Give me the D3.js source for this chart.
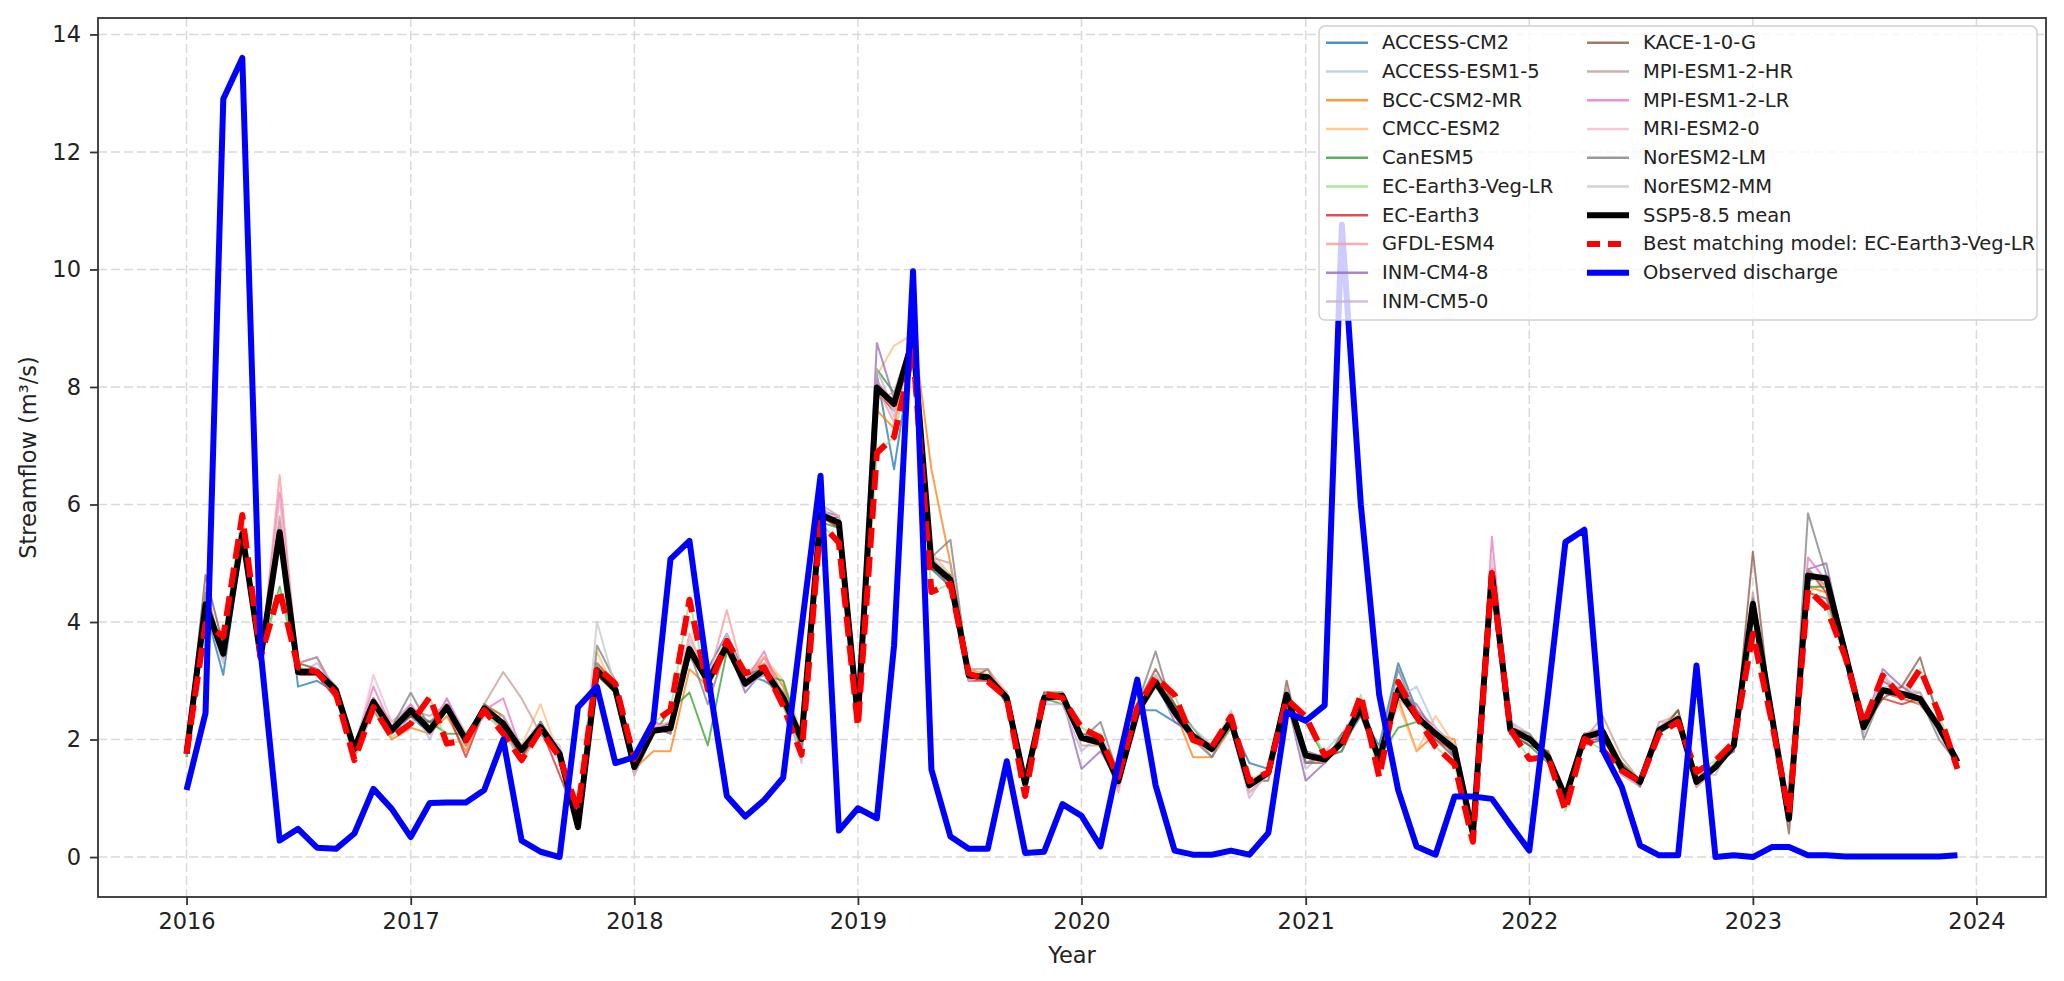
<!DOCTYPE html>
<html>
<head>
<meta charset="utf-8">
<script src="https://cdn.jsdelivr.net/npm/d3@7"></script>
<style>
  body { margin: 0; background: #fff; }
  svg { display: block; font-family: "DejaVu Sans", sans-serif; }
</style>
</head>
<body>
<div id="chart"></div>
<script>
// monthly series, Jan 2016 .. Dec 2023
const yearTicks = [2016, 2017, 2018, 2019, 2020, 2021, 2022, 2023, 2024];
const yTicks = [0, 2, 4, 6, 8, 10, 12, 14];

const observed = [
  1.14, 2.45, 12.9, 13.6, 3.5, 0.28, 0.48, 0.16, 0.14, 0.40, 1.16, 0.82,
  0.34, 0.92, 0.93, 0.93, 1.14, 2.0, 0.28, 0.09, 0.0, 2.55, 2.9, 1.6,
  1.7, 2.3, 5.07, 5.38, 3.1, 1.04, 0.69, 0.97, 1.35, 3.9, 6.49, 0.45,
  0.83, 0.66, 3.6, 9.97, 1.49, 0.35, 0.14, 0.14, 1.63, 0.07, 0.09, 0.9,
  0.70, 0.18, 1.6, 3.02, 1.22, 0.11, 0.04, 0.04, 0.11, 0.04, 0.41, 2.47,
  2.32, 2.58, 10.76, 6.0, 2.76, 1.14, 0.18, 0.04, 1.03, 1.03, 0.99, 0.55,
  0.11, 2.8, 5.36, 5.57, 1.82, 1.19, 0.2, 0.03, 0.03, 3.26, 0.0, 0.03,
  0.0, 0.17, 0.17, 0.03, 0.03, 0.01, 0.01, 0.01, 0.01, 0.01, 0.01, 0.03
];

const ensembleMean = [
  1.76, 4.3, 3.46, 5.5, 3.4, 5.53, 3.15, 3.15, 2.84, 1.84, 2.64, 2.16,
  2.5, 2.16, 2.55, 1.99, 2.53, 2.27, 1.82, 2.21, 1.76, 0.51, 3.18, 2.85,
  1.53, 2.15, 2.19, 3.54, 2.99, 3.6, 2.95, 3.19, 2.71, 2.01, 5.83, 5.69,
  2.36, 7.99, 7.71, 8.82, 5.0, 4.72, 3.09, 3.06, 2.71, 1.25, 2.71, 2.74,
  2.03, 1.95, 1.29, 2.47, 2.98, 2.47, 2.06, 1.84, 2.32, 1.22, 1.44, 2.76,
  1.73, 1.66, 1.95, 2.54, 1.66, 2.84, 2.39, 2.1, 1.84, 0.4, 4.83, 2.17,
  2.01, 1.7, 1.02, 2.04, 2.13, 1.5, 1.28, 2.16, 2.35, 1.28, 1.53, 1.9,
  4.31, 2.4, 0.65, 4.79, 4.74, 3.46, 2.21, 2.84, 2.78, 2.69, 2.21, 1.62
];

// EC-Earth3-Veg-LR (also the best matching model)
const ecEarth3VegLR = [
  1.76, 3.97, 3.75, 5.82, 3.4, 4.54, 3.23, 3.15, 2.78, 1.65, 2.55, 2.04,
  2.27, 2.72, 1.93, 1.99, 2.5, 2.1, 1.65, 2.16, 1.7, 0.8, 3.23, 2.95,
  1.67, 2.29, 2.5, 4.38, 2.85, 3.68, 3.13, 3.23, 2.57, 1.74, 5.69, 5.35,
  2.22, 6.88, 7.15, 8.61, 4.51, 4.65, 3.13, 2.99, 2.71, 1.04, 2.78, 2.71,
  2.2, 2.03, 1.36, 2.54, 3.06, 2.76, 1.99, 1.88, 2.39, 1.29, 1.44, 2.69,
  2.39, 1.73, 1.88, 2.76, 1.36, 2.98, 2.39, 1.88, 1.58, 0.26, 4.83, 2.17,
  1.67, 1.7, 0.79, 2.01, 1.82, 1.47, 1.28, 2.1, 2.3, 1.45, 1.64, 1.96,
  3.8, 2.3, 0.74, 4.55, 4.25, 3.4, 2.27, 3.09, 2.72, 3.2, 2.44, 1.5
];

const accessCM2 = [
  1.7, 4.2, 3.1, 5.4, 3.3, 5.6, 2.9, 3.0, 2.8, 1.9, 2.5, 2.1,
  2.4, 2.1, 2.5, 1.9, 2.6, 2.4, 1.7, 2.1, 1.7, 0.6, 3.1, 2.8,
  1.4, 2.1, 2.3, 3.4, 3.2, 3.8, 3.1, 3.0, 2.8, 2.1, 5.9, 5.6,
  2.3, 8.2, 6.6, 8.7, 4.9, 4.6, 3.0, 3.1, 2.6, 1.3, 2.8, 2.7,
  2.0, 1.9, 1.3, 2.5, 2.5, 2.3, 2.1, 1.9, 2.3, 1.6, 1.5, 2.7,
  1.8, 1.7, 1.9, 2.4, 1.9, 3.3, 2.5, 2.2, 1.7, 0.4, 4.7, 2.1,
  2.0, 1.6, 1.1, 1.9, 2.0, 1.6, 1.3, 2.2, 2.3, 1.2, 1.5, 1.9,
  4.2, 2.5, 0.8, 4.7, 4.8, 3.4, 2.3, 2.8, 2.7, 2.6, 2.2, 1.6
];
const accessESM15 = [
  1.8, 4.4, 3.4, 5.6, 3.5, 5.4, 3.1, 3.1, 2.7, 1.8, 2.7, 2.2,
  2.3, 2.3, 2.6, 1.9, 2.4, 2.2, 1.9, 2.3, 1.6, 0.5, 3.3, 2.9,
  1.5, 2.3, 2.2, 3.7, 3.1, 3.5, 3.0, 3.3, 2.8, 1.9, 5.7, 5.8,
  2.4, 8.1, 7.5, 8.9, 5.1, 4.8, 3.2, 3.0, 2.8, 1.2, 2.6, 2.8,
  2.1, 2.0, 1.4, 2.6, 2.9, 2.4, 2.0, 1.8, 2.4, 1.3, 1.4, 2.6,
  1.6, 1.8, 2.1, 2.6, 1.7, 2.7, 2.9, 2.2, 1.9, 0.5, 4.9, 2.3,
  1.9, 1.8, 1.0, 2.1, 2.2, 1.4, 1.2, 2.1, 2.4, 1.3, 1.6, 1.8,
  4.4, 2.3, 0.7, 4.9, 4.6, 3.6, 2.2, 2.9, 2.9, 2.8, 2.1, 1.5
];
const bccCSM2MR = [
  1.8, 4.2, 3.5, 5.4, 3.4, 5.5, 3.2, 3.2, 2.9, 1.7, 2.5, 2.0,
  2.2, 2.1, 2.4, 1.8, 2.6, 2.4, 1.8, 2.2, 1.8, 0.6, 3.3, 3.0,
  1.5, 1.8, 1.8, 3.2, 2.9, 3.5, 2.9, 3.4, 2.9, 2.0, 5.8, 5.6,
  2.3, 7.6, 7.3, 9.0, 6.6, 5.0, 3.2, 3.1, 2.7, 1.2, 2.7, 2.7,
  2.0, 1.9, 1.2, 2.6, 2.9, 2.5, 1.7, 1.7, 2.2, 1.1, 1.4, 2.8,
  1.8, 1.6, 1.9, 2.5, 1.7, 2.7, 1.8, 2.1, 2.0, 0.5, 4.7, 2.2,
  2.1, 1.6, 1.0, 2.1, 2.1, 1.6, 1.3, 2.2, 2.4, 1.4, 1.5, 2.0,
  4.2, 2.5, 0.8, 4.6, 4.5, 3.5, 2.3, 2.8, 2.7, 2.6, 2.2, 1.6
];
const cmccESM2 = [
  1.8, 4.3, 3.6, 5.6, 3.5, 5.7, 3.3, 3.2, 2.8, 1.9, 2.7, 2.3,
  2.5, 2.2, 2.6, 2.1, 2.4, 2.3, 1.9, 2.6, 1.7, 0.5, 3.5, 2.8,
  1.6, 2.2, 2.3, 3.6, 3.0, 3.7, 3.1, 3.4, 3.0, 2.1, 5.9, 5.7,
  2.4, 8.2, 8.7, 8.9, 5.2, 4.8, 3.1, 3.2, 2.8, 1.3, 2.8, 2.8,
  2.1, 2.1, 1.3, 2.6, 3.1, 2.6, 2.1, 1.8, 2.3, 1.3, 1.5, 2.8,
  1.7, 1.7, 2.0, 2.6, 1.6, 2.6, 1.8, 2.4, 1.9, 0.4, 4.9, 2.3,
  2.0, 1.8, 1.0, 2.0, 2.2, 1.6, 1.3, 2.2, 2.5, 1.3, 1.6, 2.0,
  4.4, 2.4, 0.7, 4.5, 4.7, 3.5, 2.3, 2.8, 2.9, 2.7, 2.3, 1.6
];
const canESM5 = [
  1.7, 4.3, 3.5, 5.5, 3.4, 4.6, 3.2, 3.1, 2.8, 1.8, 2.6, 2.2,
  2.5, 2.3, 2.1, 2.1, 2.5, 2.2, 1.8, 2.1, 1.8, 0.6, 3.1, 2.8,
  1.5, 2.1, 2.5, 2.8, 1.9, 3.5, 3.0, 3.1, 3.0, 2.0, 5.7, 5.6,
  2.4, 8.3, 7.9, 8.6, 4.9, 4.7, 3.1, 3.0, 2.7, 1.3, 2.7, 2.6,
  2.0, 2.0, 1.3, 2.4, 2.9, 2.6, 2.2, 1.8, 2.2, 1.3, 1.4, 2.7,
  2.3, 1.7, 1.8, 2.5, 1.7, 2.2, 2.3, 2.1, 1.8, 0.4, 4.8, 2.1,
  1.9, 1.6, 1.0, 2.1, 2.1, 1.6, 1.3, 2.1, 2.5, 1.3, 1.5, 1.9,
  4.2, 2.3, 0.7, 4.6, 4.6, 3.4, 2.3, 3.0, 2.8, 2.7, 2.2, 1.6
];
const ecEarth3 = [
  1.8, 4.2, 3.4, 5.6, 3.3, 5.4, 3.1, 3.1, 2.7, 1.8, 2.6, 2.2,
  2.4, 2.2, 2.5, 1.7, 2.5, 2.3, 1.7, 2.2, 1.4, 0.6, 3.1, 2.8,
  1.5, 2.2, 2.1, 3.5, 3.0, 3.6, 3.0, 3.1, 2.6, 2.0, 5.8, 5.6,
  2.3, 7.9, 7.6, 8.7, 5.0, 4.6, 3.0, 3.0, 2.7, 1.2, 2.7, 2.7,
  2.0, 1.9, 1.2, 2.5, 3.0, 2.4, 2.0, 1.9, 2.3, 1.2, 1.4, 2.8,
  1.7, 1.6, 2.0, 2.5, 1.7, 2.8, 2.4, 2.0, 1.8, 0.5, 4.8, 2.1,
  2.0, 1.7, 0.9, 2.0, 2.0, 1.5, 1.3, 2.2, 2.3, 1.2, 1.5, 1.9,
  4.4, 2.3, 0.6, 4.9, 4.5, 3.4, 2.2, 2.7, 2.6, 2.7, 2.2, 1.5
];
const gfdlESM4 = [
  1.8, 4.4, 3.4, 5.7, 3.3, 6.5, 3.2, 3.2, 2.8, 1.8, 2.7, 2.3,
  2.5, 2.2, 2.6, 2.0, 2.5, 2.2, 1.6, 2.2, 1.7, 0.6, 3.2, 2.9,
  1.5, 2.2, 2.3, 3.8, 3.0, 4.2, 3.0, 3.4, 2.7, 2.0, 5.8, 5.7,
  2.4, 8.0, 7.4, 8.8, 5.1, 4.7, 3.1, 3.1, 2.8, 1.3, 2.7, 2.7,
  2.0, 2.0, 1.1, 2.5, 3.0, 2.5, 2.1, 1.9, 2.4, 1.2, 1.4, 2.8,
  1.6, 1.7, 2.0, 2.5, 1.7, 2.8, 2.5, 2.2, 1.8, 0.4, 4.9, 2.2,
  2.0, 1.7, 1.0, 2.1, 2.2, 1.5, 1.3, 2.3, 2.4, 1.2, 1.5, 1.9,
  4.3, 2.4, 0.6, 4.8, 4.7, 3.5, 2.2, 2.8, 2.8, 2.6, 2.3, 1.6
];
const inmCM48 = [
  1.8, 4.3, 3.5, 5.5, 3.4, 5.6, 3.3, 3.4, 2.8, 1.8, 2.6, 2.2,
  2.5, 2.1, 2.6, 1.9, 2.5, 2.3, 1.8, 2.2, 1.8, 0.5, 3.2, 2.9,
  1.5, 2.2, 2.2, 3.5, 3.0, 3.6, 2.8, 3.2, 2.7, 2.1, 5.9, 5.8,
  2.4, 8.75, 7.8, 8.8, 5.0, 4.7, 3.1, 3.1, 2.7, 1.3, 2.7, 2.7,
  1.5, 1.8, 1.3, 2.5, 3.0, 2.3, 2.1, 1.8, 2.3, 1.2, 1.4, 2.7,
  1.3, 1.6, 2.0, 2.5, 1.7, 2.8, 2.6, 2.1, 1.8, 0.4, 4.8, 2.2,
  2.0, 1.7, 1.0, 2.0, 2.1, 1.5, 1.3, 2.2, 2.4, 1.3, 1.5, 1.9,
  4.3, 2.4, 0.7, 4.9, 5.0, 3.5, 2.2, 3.2, 2.9, 2.7, 2.2, 1.6
];
const inmCM50 = [
  1.9, 4.2, 3.3, 5.4, 3.5, 5.7, 3.1, 3.3, 2.9, 1.7, 2.5, 2.3,
  2.6, 2.0, 2.7, 2.1, 2.4, 2.4, 1.9, 2.1, 1.9, 0.6, 3.1, 3.0,
  1.6, 2.3, 2.1, 3.4, 3.1, 3.5, 2.9, 3.1, 2.8, 1.6, 6.0, 5.6,
  2.5, 8.3, 7.6, 8.7, 5.1, 4.6, 3.2, 3.0, 2.8, 1.4, 2.6, 2.6,
  1.8, 2.1, 1.4, 2.4, 3.1, 2.4, 2.2, 1.9, 2.2, 1.0, 1.5, 2.7,
  1.5, 1.8, 1.9, 2.6, 1.8, 2.9, 2.3, 2.2, 1.9, 0.5, 4.7, 2.3,
  2.1, 1.6, 1.1, 1.9, 2.2, 1.4, 1.2, 2.3, 2.3, 1.4, 1.4, 2.0,
  4.2, 2.5, 0.8, 4.7, 4.8, 3.6, 2.1, 3.1, 2.7, 2.8, 2.1, 1.7
];
const kace10G = [
  1.8, 4.8, 3.6, 5.3, 3.4, 5.4, 3.3, 3.2, 2.9, 1.9, 2.7, 2.2,
  2.4, 2.3, 2.5, 2.0, 2.6, 2.2, 1.7, 2.3, 1.7, 0.5, 3.3, 2.9,
  1.5, 2.1, 2.3, 3.6, 2.9, 3.7, 3.1, 3.2, 2.6, 1.9, 5.7, 5.8,
  2.3, 7.9, 7.8, 8.9, 4.9, 4.8, 3.0, 3.2, 2.6, 1.2, 2.8, 2.8,
  2.1, 2.0, 1.2, 2.6, 3.2, 2.6, 2.0, 1.8, 2.4, 1.3, 1.3, 3.0,
  1.6, 1.6, 2.1, 2.4, 1.6, 2.9, 2.5, 2.0, 1.7, 0.3, 4.9, 2.1,
  1.9, 1.8, 0.9, 2.1, 2.0, 1.6, 1.2, 2.1, 2.5, 1.2, 1.6, 1.8,
  5.2, 2.3, 0.4, 4.5, 4.4, 3.4, 2.3, 2.7, 2.9, 3.4, 2.3, 1.5
];
const mpiESM12HR = [
  1.7, 4.6, 3.4, 5.5, 3.3, 5.8, 3.3, 3.4, 2.7, 1.7, 2.6, 2.1,
  2.5, 2.4, 2.6, 1.9, 2.6, 3.15, 2.7, 2.1, 1.8, 0.6, 3.3, 2.8,
  1.4, 2.2, 2.2, 3.4, 3.0, 3.5, 3.0, 3.3, 2.7, 2.1, 6.0, 5.8,
  2.5, 7.8, 7.9, 8.9, 5.1, 5.0, 3.2, 3.2, 2.7, 1.3, 2.7, 2.8,
  1.9, 1.9, 1.3, 2.4, 2.9, 2.5, 2.1, 1.7, 2.3, 1.1, 1.4, 2.9,
  1.8, 1.7, 2.0, 2.5, 1.7, 2.7, 2.4, 2.1, 1.8, 0.4, 4.8, 2.2,
  2.0, 1.7, 1.0, 2.0, 2.4, 1.7, 1.3, 2.2, 2.4, 1.3, 1.5, 1.9,
  4.5, 2.4, 0.7, 4.9, 4.6, 3.5, 2.2, 2.8, 2.8, 2.8, 2.2, 1.6
];
const mpiESM12LR = [
  1.8, 4.3, 3.5, 5.6, 3.4, 6.2, 3.2, 3.2, 2.8, 1.9, 2.9, 2.2,
  2.6, 2.2, 2.7, 2.0, 2.5, 2.7, 1.8, 2.2, 1.8, 0.5, 3.2, 2.9,
  1.6, 2.3, 2.2, 3.5, 3.1, 3.6, 3.0, 3.5, 2.7, 1.9, 5.8, 5.7,
  2.4, 8.1, 7.7, 8.8, 5.0, 4.7, 3.1, 3.1, 2.7, 1.3, 2.7, 2.7,
  2.0, 2.0, 1.3, 2.5, 3.0, 2.5, 2.1, 1.8, 2.3, 1.2, 1.4, 2.8,
  1.7, 1.7, 2.0, 2.5, 1.7, 2.8, 2.4, 2.1, 1.8, 0.4, 5.45, 2.2,
  2.0, 1.7, 1.0, 2.0, 2.1, 1.5, 1.3, 2.2, 2.4, 1.3, 1.5, 1.9,
  4.3, 2.4, 0.7, 5.1, 4.7, 3.5, 2.2, 3.0, 2.8, 2.7, 2.2, 1.6
];
const mriESM20 = [
  1.8, 4.4, 3.5, 5.4, 3.3, 6.1, 3.2, 3.1, 2.8, 1.8, 3.1, 2.3,
  2.5, 2.2, 2.5, 2.0, 2.4, 2.3, 1.8, 2.2, 1.8, 0.5, 3.2, 2.9,
  1.4, 2.2, 2.3, 3.6, 3.0, 3.8, 3.0, 3.2, 2.8, 2.0, 5.8, 5.8,
  2.4, 8.0, 7.6, 8.8, 5.0, 4.7, 3.0, 3.1, 2.7, 1.3, 2.7, 2.7,
  2.0, 2.0, 1.2, 2.5, 3.0, 2.5, 2.1, 1.8, 2.5, 1.1, 1.4, 2.8,
  1.7, 1.6, 2.0, 2.5, 1.7, 2.8, 2.4, 2.2, 1.8, 0.4, 5.1, 2.2,
  2.0, 1.7, 1.0, 2.0, 2.1, 1.5, 1.3, 2.2, 2.4, 1.2, 1.5, 1.9,
  4.4, 2.4, 0.7, 4.8, 4.7, 3.5, 2.2, 3.1, 2.8, 2.7, 2.2, 1.6
];
const norESM2LM = [
  1.8, 4.5, 3.5, 5.6, 3.5, 5.6, 3.2, 3.2, 2.9, 1.8, 2.7, 2.2,
  2.8, 2.2, 2.6, 2.0, 2.6, 2.3, 1.8, 2.3, 1.8, 0.5, 3.6, 3.0,
  1.5, 2.2, 2.1, 3.5, 2.6, 3.6, 3.1, 3.2, 2.8, 1.8, 5.8, 5.7,
  2.4, 8.0, 7.7, 8.8, 5.1, 5.4, 3.1, 3.1, 2.7, 1.3, 2.7, 2.7,
  2.0, 2.3, 1.4, 2.6, 3.5, 2.4, 2.0, 1.7, 2.3, 1.2, 1.4, 2.7,
  1.6, 1.7, 1.8, 2.5, 1.7, 3.2, 2.4, 2.1, 1.8, 0.4, 4.8, 2.2,
  2.1, 1.7, 1.0, 2.0, 2.2, 1.5, 1.3, 2.2, 2.4, 1.3, 1.5, 1.9,
  4.4, 2.4, 0.7, 5.85, 4.8, 3.5, 2.0, 2.8, 2.8, 2.7, 2.0, 1.6
];
const norESM2MM = [
  1.8, 4.3, 3.6, 5.5, 3.4, 5.6, 3.1, 3.2, 2.8, 1.8, 2.6, 2.2,
  2.5, 2.2, 2.6, 2.0, 2.5, 2.3, 1.8, 2.2, 1.8, 0.6, 4.0, 2.9,
  1.5, 2.2, 2.2, 3.5, 3.0, 3.6, 3.0, 3.2, 2.7, 2.0, 5.8, 5.7,
  2.4, 8.0, 7.7, 8.8, 5.0, 4.7, 3.1, 3.1, 2.7, 1.3, 2.7, 2.7,
  2.0, 2.0, 1.3, 2.5, 3.0, 2.5, 2.1, 1.8, 2.3, 1.2, 1.4, 2.8,
  1.7, 1.7, 2.0, 2.5, 1.7, 2.8, 2.4, 2.1, 1.8, 0.4, 4.8, 2.2,
  2.0, 1.7, 1.0, 2.0, 2.1, 1.5, 1.3, 2.2, 2.4, 1.3, 1.5, 1.9,
  4.3, 2.4, 0.7, 4.8, 4.7, 3.5, 2.2, 2.8, 2.8, 2.7, 2.2, 1.6
];

const modelNames = [
  'ACCESS-CM2', 'ACCESS-ESM1-5', 'BCC-CSM2-MR', 'CMCC-ESM2', 'CanESM5',
  'EC-Earth3-Veg-LR', 'EC-Earth3', 'GFDL-ESM4', 'INM-CM4-8', 'INM-CM5-0',
  'KACE-1-0-G', 'MPI-ESM1-2-HR', 'MPI-ESM1-2-LR', 'MRI-ESM2-0', 'NorESM2-LM', 'NorESM2-MM'
];
const modelSeries = [
  accessCM2, accessESM15, bccCSM2MR, cmccESM2, canESM5,
  ecEarth3VegLR, ecEarth3, gfdlESM4, inmCM48, inmCM50,
  kace10G, mpiESM12HR, mpiESM12LR, mriESM20, norESM2LM, norESM2MM
];
const bestMatch = ecEarth3VegLR;

const width = 2064;
const height = 981;
const margin = { top: 18, right: 18, bottom: 84, left: 98 };

// matplotlib tab20 colours
const tab20 = ['#1f77b4', '#aec7e8', '#ff7f0e', '#ffbb78', '#2ca02c', '#98df8a', '#d62728', '#ff9896',
  '#9467bd', '#c5b0d5', '#8c564b', '#c49c94', '#e377c2', '#f7b6d2', '#7f7f7f', '#c7c7c7'];

const months = d3.timeMonth.range(new Date(2016, 0, 1), new Date(2024, 0, 1));

const svg = d3.select('#chart')
  .append('svg')
  .attr('width', width)
  .attr('height', height)
  .attr('viewBox', [0, 0, width, height]);

// matplotlib style 5% margins
const t0 = months[0], t1 = months[months.length - 1];
const tPad = (t1 - t0) * 0.05;
const x = d3.scaleTime()
  .domain([new Date(+t0 - tPad), new Date(+t1 + tPad)])
  .range([margin.left, width - margin.right]);

const allVals = [observed, ensembleMean, ...modelSeries].flat();
const yMin = d3.min(allVals), yMax = d3.max(allVals);
const yPad = (yMax - yMin) * 0.05;
const y = d3.scaleLinear()
  .domain([yMin - yPad, yMax + yPad])
  .range([height - margin.bottom, margin.top]);

const plotW = width - margin.left - margin.right;
const plotH = height - margin.top - margin.bottom;

// grid
const grid = svg.append('g')
  .attr('stroke', '#d9d9d9')
  .attr('stroke-width', 1.5)
  .attr('stroke-dasharray', '9,4');
grid.selectAll('.gx')
  .data(yearTicks)
  .join('line')
    .attr('x1', d => x(new Date(d, 0, 1)))
    .attr('x2', d => x(new Date(d, 0, 1)))
    .attr('y1', margin.top)
    .attr('y2', height - margin.bottom);
grid.selectAll('.gy')
  .data(yTicks)
  .join('line')
    .attr('x1', margin.left)
    .attr('x2', width - margin.right)
    .attr('y1', d => y(d))
    .attr('y2', d => y(d));

const line = d3.line()
  .x((d, i) => x(months[i]))
  .y(d => y(d));

const plot = svg.append('g');

plot.append('g')
  .selectAll('path')
  .data(modelSeries)
  .join('path')
    .attr('fill', 'none')
    .attr('stroke', (d, i) => tab20[i])
    .attr('stroke-width', 2)
    .attr('stroke-opacity', 0.75)
    .attr('stroke-linejoin', 'round')
    .attr('d', line);

plot.append('path')
  .datum(ensembleMean)
  .attr('fill', 'none')
  .attr('stroke', '#000')
  .attr('stroke-width', 6)
  .attr('stroke-linejoin', 'round')
  .attr('d', line);

plot.append('path')
  .datum(bestMatch)
  .attr('fill', 'none')
  .attr('stroke', '#ff0000')
  .attr('stroke-width', 6)
  .attr('stroke-dasharray', '20,9')
  .attr('stroke-linejoin', 'round')
  .attr('d', line);

plot.append('path')
  .datum(observed)
  .attr('fill', 'none')
  .attr('stroke', '#0000ff')
  .attr('stroke-width', 6)
  .attr('stroke-linejoin', 'round')
  .attr('d', line);

// axes
function xAxis(g) {
  g.attr('transform', `translate(0,${height - margin.bottom})`)
    .call(d3.axisBottom(x)
      .tickValues(yearTicks.map(d => new Date(d, 0, 1)))
      .tickFormat(d3.timeFormat('%Y'))
      .tickSize(8)
      .tickPadding(8))
    .attr('font-size', '22.5px')
    .attr('font-family', '"DejaVu Sans", sans-serif');
  g.select('.domain').remove();
  g.selectAll('.tick line').attr('stroke', '#333').attr('stroke-width', 1.8);
  g.selectAll('.tick text').attr('fill', '#222');
}

function yAxis(g) {
  g.attr('transform', `translate(${margin.left},0)`)
    .call(d3.axisLeft(y)
      .tickValues(yTicks)
      .tickSize(8)
      .tickPadding(9))
    .attr('font-size', '22.5px')
    .attr('font-family', '"DejaVu Sans", sans-serif');
  g.select('.domain').remove();
  g.selectAll('.tick line').attr('stroke', '#333').attr('stroke-width', 1.8);
  g.selectAll('.tick text').attr('fill', '#222');
}

svg.append('g').call(xAxis);
svg.append('g').call(yAxis);

svg.append('rect')
  .attr('x', margin.left)
  .attr('y', margin.top)
  .attr('width', plotW)
  .attr('height', plotH)
  .attr('fill', 'none')
  .attr('stroke', '#333')
  .attr('stroke-width', 1.8);

svg.append('text')
  .attr('x', margin.left + plotW / 2)
  .attr('y', 963)
  .attr('text-anchor', 'middle')
  .attr('font-size', '22.5px')
  .attr('fill', '#222')
  .text('Year');

svg.append('text')
  .attr('transform', `translate(28,${margin.top + plotH / 2}) rotate(-90)`)
  .attr('text-anchor', 'middle')
  .attr('dominant-baseline', 'central')
  .attr('font-size', '22.5px')
  .attr('fill', '#222')
  .text('Streamflow (m³/s)');

// legend
const legendItems = modelNames.map((name, i) => ({ name, color: tab20[i], width: 2.5, opacity: 0.8 }))
  .concat([
    { name: 'SSP5-8.5 mean', color: '#000', width: 6, opacity: 1 },
    { name: 'Best matching model: EC-Earth3-Veg-LR', color: '#ff0000', width: 6, opacity: 1, dash: '13,8' },
    { name: 'Observed discharge', color: '#0000ff', width: 6, opacity: 1 }
  ]);

const legend = svg.append('g');
legend.append('rect')
  .attr('x', 1319)
  .attr('y', 26)
  .attr('width', 718)
  .attr('height', 294)
  .attr('rx', 6)
  .attr('fill', '#fff')
  .attr('fill-opacity', 0.8)
  .attr('stroke', '#cfcfcf')
  .attr('stroke-width', 1.5);

const rows = 10;
const colX = [1326, 1587];
const item = legend.selectAll('g.item')
  .data(legendItems)
  .join('g')
    .attr('transform', (d, i) => `translate(${colX[Math.floor(i / rows)]},${42.7 + (i % rows) * 28.75})`);

item.append('line')
  .attr('x1', 0)
  .attr('x2', 42)
  .attr('stroke', d => d.color)
  .attr('stroke-width', d => d.width)
  .attr('stroke-opacity', d => d.opacity)
  .attr('stroke-dasharray', d => d.dash || null);

item.append('text')
  .attr('x', 56)
  .attr('dominant-baseline', 'central')
  .attr('font-size', '19.5px')
  .attr('fill', '#222')
  .text(d => d.name);
</script>
</body>
</html>
